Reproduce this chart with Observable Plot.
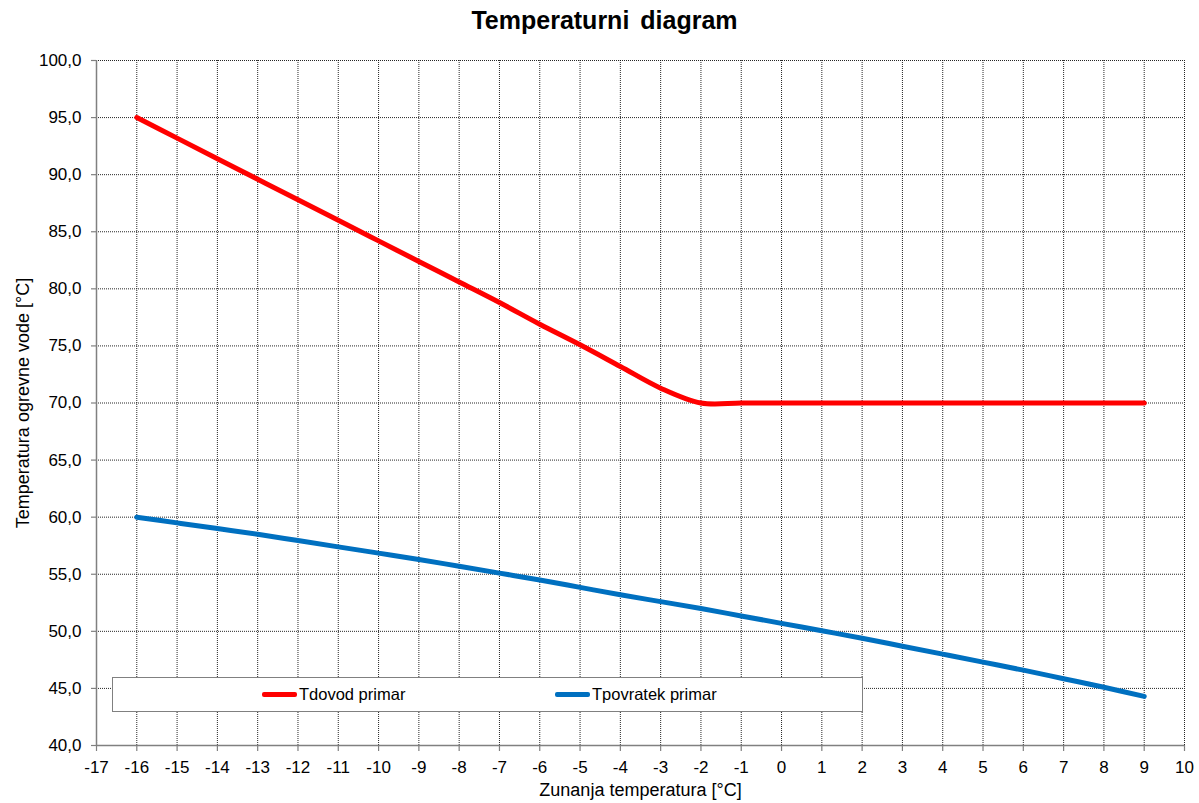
<!DOCTYPE html>
<html>
<head>
<meta charset="utf-8">
<script src="https://cdn.jsdelivr.net/npm/d3@7"></script>
<script src="https://cdn.jsdelivr.net/npm/@observablehq/plot@0.6"></script>
<style>
  html, body { margin: 0; padding: 0; background: #fff; }
  #wrap { position: relative; width: 1199px; height: 803px; font-family: "Liberation Sans", Arial, sans-serif; }
  #title { position: absolute; left: 0; width: 1209px; top: 6px; text-align: center; font-size: 25px; font-weight: bold; color: #000; word-spacing: 4px; }
  #legend { position: absolute; left: 112px; top: 677px; width: 749px; height: 33px; border: 1px solid #808080; background: #fff; font-size: 16.5px; color: #000; }
  .item { position: absolute; top: 7px; display: flex; align-items: center; }
  .swatch { display: inline-block; width: 35px; height: 5px; border-radius: 2px; margin-right: 2px; }
  #chart { position: absolute; left: 0; top: 0; }
</style>
</head>
<body>
<div id="wrap">
  <div id="chart"></div>
  <div id="title">Temperaturni diagram</div>
  <div id="legend"></div>
</div>
<script>
const title = "Temperaturni diagram";
const xLabel = "Zunanja temperatura [°C]";
const yLabel = "Temperatura ogrevne vode [°C]";
const seriesNames = ["Tdovod primar", "Tpovratek primar"];
const seriesColors = ["#FF0000", "#0070C0"];

const outdoor = [-16, -15, -14, -13, -12, -11, -10, -9, -8, -7, -6, -5, -4, -3, -2, -1, 0, 1, 2, 3, 4, 5, 6, 7, 8, 9];
const tdovod = [95, 93.2, 91.4, 89.6, 87.8, 86.0, 84.2, 82.4, 80.6, 78.8, 76.9, 75.1, 73.2, 71.3, 70.0, 70, 70, 70, 70, 70, 70, 70, 70, 70, 70, 70];
const tpovratek = [60, 59.5, 59.0, 58.5, 57.95, 57.4, 56.85, 56.3, 55.7, 55.1, 54.5, 53.85, 53.2, 52.6, 52.0, 51.35, 50.7, 50.05, 49.4, 48.7, 48.0, 47.3, 46.6, 45.85, 45.1, 44.3];

const xTicks = d3.range(-17, 11, 1);
const yTicks = d3.range(40, 101, 5);

const rows = [];
outdoor.forEach((x, i) => {
  rows.push({x, y: tdovod[i], s: seriesNames[0]});
  rows.push({x, y: tpovratek[i], s: seriesNames[1]});
});

const fmtY = v => d3.format(".1f")(v).replace(".", ",");
const fmtX = v => String(v).replace("−", "-");

const gridStyle = {stroke: "#000", strokeOpacity: 0.85, strokeWidth: 1, strokeDasharray: "1,1"};

const chart = Plot.plot({
  width: 1199,
  height: 803,
  marginLeft: 96,
  marginRight: 15,
  marginTop: 60,
  marginBottom: 58,
  style: {fontFamily: "'Liberation Sans', Arial, sans-serif", fontSize: "17px", color: "#000", background: "#fff"},
  x: {domain: [-17, 10]},
  y: {domain: [40, 100]},
  color: {domain: seriesNames, range: seriesColors},
  marks: [
    Plot.gridX(xTicks, gridStyle),
    Plot.gridY(yTicks, gridStyle),
    Plot.ruleX([-17], {stroke: "#808080", strokeWidth: 1.5}),
    Plot.ruleY([40], {stroke: "#808080", strokeWidth: 1.5}),
    Plot.axisX(xTicks, {tickFormat: fmtX, tickSize: 6, tickPadding: 9, stroke: "#808080", strokeWidth: 1.2, label: null, fontSize: 17}),
    Plot.axisY(yTicks, {tickFormat: fmtY, tickSize: 5, tickPadding: 10, stroke: "#808080", strokeWidth: 1.2, label: null, fontSize: 17}),
    Plot.axisX([], {label: xLabel, labelAnchor: "center", labelArrow: "none", labelOffset: 50, fontSize: 18, tickSize: 0}),
    Plot.axisY([], {label: yLabel, labelAnchor: "center", labelArrow: "none", labelOffset: 80, fontSize: 18, tickSize: 0}),
    Plot.line(rows, {x: "x", y: "y", stroke: "s", z: "s", strokeWidth: 5, curve: "catmull-rom", strokeLinecap: "round", strokeLinejoin: "round"})
  ]
});
document.getElementById("chart").appendChild(chart);

// legend (HTML overlay inside the plot area, as in the reference)
const legend = document.getElementById("legend");
const positions = [149, 442];
seriesNames.forEach((name, i) => {
  const item = document.createElement("div");
  item.className = "item";
  item.style.left = positions[i] + "px";
  const sw = document.createElement("span");
  sw.className = "swatch";
  sw.style.background = seriesColors[i];
  const t = document.createElement("span");
  t.textContent = name;
  item.appendChild(sw);
  item.appendChild(t);
  legend.appendChild(item);
});
</script>
</body>
</html>
